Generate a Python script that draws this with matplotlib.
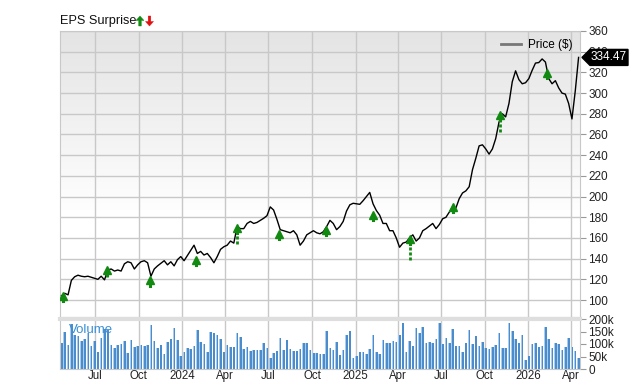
import matplotlib
matplotlib.use('Agg')
import matplotlib.pyplot as plt
import matplotlib.dates as mdates
import matplotlib.patches as mpatches
from matplotlib.colors import LinearSegmentedColormap
from matplotlib.transforms import IdentityTransform
import numpy as np
import pandas as pd

plt.rcParams['font.family'] = ['Liberation Sans', 'DejaVu Sans']

# weekly closes
weeks = pd.date_range('2023-04-21', periods=157, freq='7D')
price = [104, 106.5, 105, 119, 122.5, 124, 123, 122.5, 123, 122, 121, 120, 123, 119.5, 129, 130,
         128, 129, 128, 135, 137, 136, 130, 134, 137, 138, 136, 123, 130, 133, 135.5, 138,
         134, 137, 133, 139, 142, 138, 143, 148, 153, 145, 147, 143.5, 145, 141, 136, 142,
         149, 151.5, 153, 157, 155, 171, 169, 169, 174, 176, 174, 175, 177, 179, 181.5, 190,
         187, 178, 168, 167, 166, 165, 167, 163, 153, 157, 163, 165, 167, 165, 164, 166,
         171, 177, 174, 168, 171, 176, 186, 192, 193.5, 193, 192.5, 196, 200, 204, 193, 186.5,
         182, 174, 174, 167, 167, 160, 151, 155, 156, 160, 163, 157, 160, 167, 169, 171.5,
         174, 169, 173, 178.5, 180, 185, 190, 189, 198, 203.5, 205.5, 209.5, 226, 237, 249, 250,
         246, 241, 246, 256, 272, 280, 277, 290, 311, 321.5, 313, 309, 310, 314, 322, 329,
         329.5, 333, 330, 314, 309, 312, 305, 300, 299, 290, 275, 302, 334.47]
last_price = 334.47

# weekly volume, thousands
volume_k = [105, 149, 96, 179, 136, 133, 112, 120, 143, 92, 112, 67, 123, 160, 156, 96,
            83, 96, 100, 112, 65, 116, 89, 93, 96, 92, 96, 176, 113, 85, 96, 60,
            107, 120, 163, 116, 52, 69, 83, 80, 92, 156, 109, 99, 69, 147, 143, 136,
            120, 69, 96, 87, 87, 143, 127, 79, 89, 72, 76, 76, 76, 103, 83, 43,
            63, 72, 123, 76, 116, 80, 72, 73, 80, 103, 103, 76, 65, 65, 59, 59,
            152, 83, 76, 109, 56, 76, 136, 153, 43, 53, 67, 69, 60, 80, 136, 69,
            60, 116, 105, 103, 113, 109, 136, 185, 67, 113, 93, 163, 145, 167, 105, 109,
            105, 120, 185, 100, 123, 105, 159, 93, 93, 67, 103, 156, 100, 133, 93, 107,
            83, 80, 89, 96, 145, 83, 83, 183, 152, 119, 103, 136, 36, 53, 100, 103,
            89, 93, 169, 119, 83, 105, 100, 76, 89, 123, 89, 72, 43]

# earnings reports (all beats)
eps_dates = pd.to_datetime(['2023-04-24', '2023-07-26', '2023-10-25', '2024-01-30',
                            '2024-04-26', '2024-07-23', '2024-10-30', '2025-02-07',
                            '2025-04-26', '2025-07-26', '2025-11-02', '2026-02-09'])
eps_top = [105.8, 131, 121, 140.5, 171.5, 165.7, 169.6, 184, 161, 192, 280.7, 321.3]
eps_bottom = [98, 122, 112.5, 134, 154, 159, 163, 177.5, 138.7, 184, 262, 313.6]

W, H = 640, 382
fig = plt.figure(figsize=(W / 100, H / 100), dpi=100)
ax = fig.add_axes([60 / W, 1 - 317 / H, 520 / W, 286 / H])
axv = fig.add_axes([60 / W, 1 - 369 / H, 520 / W, 50 / H], sharex=ax)

grid_c = '#c8c8c8'
green = '#128a12'
red = '#e01010'

# gradient background
g = np.clip((np.linspace(0, 1, 256) - 0.35) / 0.65, 0, 1).reshape(-1, 1)
cmap = LinearSegmentedColormap.from_list('bg', ['#ffffff', '#e4e4e4'])
ax.imshow(g, extent=[0, 1, 0, 1], transform=ax.transAxes, aspect='auto',
          cmap=cmap, origin='lower', zorder=0)

ax.plot(weeks, price, color='black', lw=1, zorder=3)

for d, t, b in zip(eps_dates, eps_top, eps_bottom):
    ax.plot([d, d], [b, t - 5], color=green, lw=2, ls=(0, (1.1, 0.7)), zorder=4)
    ax.plot([d, d], [t - 7, t - 2], color=green, lw=2.2, zorder=4)
    ax.plot(d, t - 2, marker='^', color=green, ms=5.5, mec=green, zorder=5)

xmin, xmax = pd.Timestamp('2023-04-18'), pd.Timestamp('2026-04-20')
ax.set_xlim(xmin, xmax)
ax.set_ylim(83.6, 360)
ax.set_yticks(np.arange(100, 361, 20))
ax.set_axisbelow(True)
ax.grid(color=grid_c, lw=1)
ax.yaxis.tick_right()
ax.tick_params(axis='y', length=4, color='#999999', labelsize=8.5, labelcolor='#222222', pad=2)
ax.tick_params(axis='x', length=0, labelbottom=False)
for s in ax.spines.values():
    s.set_color(grid_c)

ax.legend([plt.Line2D([], [], color='#777777', lw=2)], ['Price ($)'],
          loc='upper right', frameon=False, fontsize=8.5, handlelength=1.7,
          borderaxespad=0.25, handletextpad=0.6)

# volume bars, two-tone
vol = np.array(volume_k) * 1000
axv.bar(weeks + pd.Timedelta(days=0.6), vol, width=4.0, color='#4a8ccc', zorder=2)
axv.bar(weeks - pd.Timedelta(days=1.8), vol, width=1.8, color='#aacdee', zorder=2)
axv.set_ylim(0, 200000)
axv.set_yticks([0, 50000, 100000, 150000, 200000])
axv.set_yticklabels(['0', '50k', '100k', '150k', '200k'])
axv.yaxis.tick_right()
axv.tick_params(axis='y', length=4, color='#999999', labelsize=8.5, labelcolor='#222222', pad=2)
axv.set_axisbelow(True)
axv.grid(axis='x', color=grid_c, lw=1)
for s in axv.spines.values():
    s.set_color(grid_c)
axv.spines['top'].set_color('#dedede')
axv.spines['top'].set_linewidth(3)
axv.text(0.018, 0.78, 'Volume', transform=axv.transAxes, color='#3b8fd4', fontsize=9.5, va='center')

axv.xaxis.set_major_locator(mdates.MonthLocator(bymonth=[1, 4, 7, 10]))
fig.canvas.draw()
ticks = axv.get_xticks()
labels = []
for tk in ticks:
    d = mdates.num2date(tk)
    labels.append(str(d.year) if d.month == 1 else d.strftime('%b'))
axv.set_xticks(ticks)
axv.set_xticklabels(labels)
axv.tick_params(axis='x', length=0, labelsize=8.3, labelcolor='#222222', pad=1)
axv.set_xlim(xmin, xmax)

# last price tag
x0 = ax.transAxes.transform((1, 0))[0]
y0 = ax.transData.transform((0, last_price))[1]
verts = [(x0 + 2, y0), (x0 + 10, y0 + 8), (x0 + 48, y0 + 8), (x0 + 48, y0 - 8), (x0 + 10, y0 - 8)]
fig.add_artist(mpatches.Polygon(verts, closed=True, fc='black', ec='black', transform=IdentityTransform()))
fig.text((x0 + 29) / W, y0 / H, f'{last_price:.2f}', color='white', fontsize=8.5,
         ha='center', va='center')

# title with up / down arrow glyphs
fig.text(60 / W, 1 - 21 / H, 'EPS Surprise', fontsize=9.2, va='center', color='#111111')


def arrow_icon(xc, yc, up, color):
    s = 1 if up else -1
    pts = [(xc - 4, yc + s * 0.5), (xc, yc + s * 5), (xc + 4, yc + s * 0.5),
           (xc + 1.3, yc + s * 0.5), (xc + 1.3, yc - s * 5), (xc - 1.3, yc - s * 5),
           (xc - 1.3, yc + s * 0.5)]
    fig.add_artist(mpatches.Polygon(pts, closed=True, fc=color, ec=color, lw=0.3,
                                    transform=IdentityTransform()))


arrow_icon(140, H - 21, True, green)
arrow_icon(149.5, H - 21, False, red)

fig.savefig('out.png', dpi=100)
